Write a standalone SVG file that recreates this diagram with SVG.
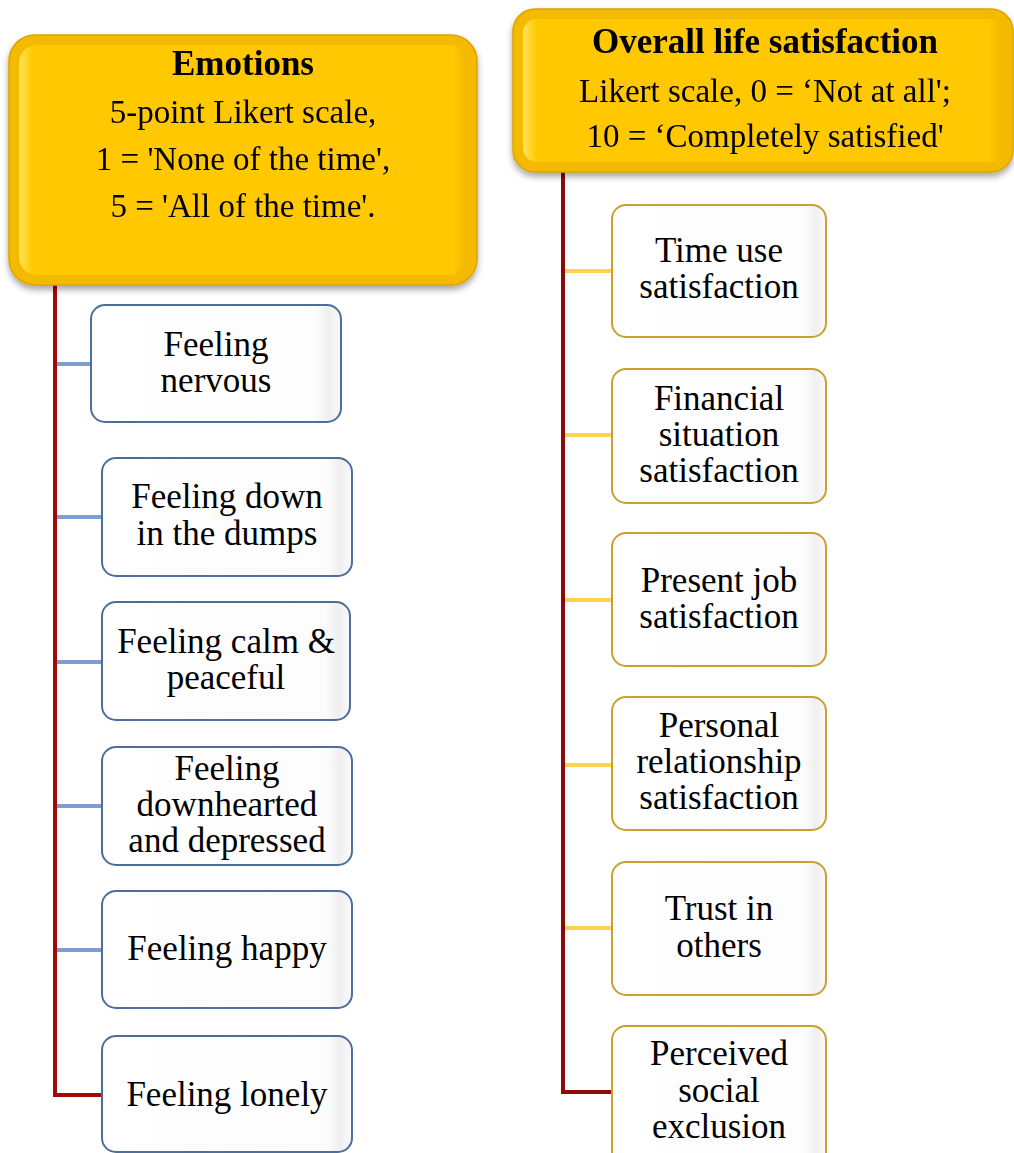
<svg xmlns="http://www.w3.org/2000/svg" width="1014" height="1153" viewBox="0 0 1014 1153">
  <defs>
    <filter id="shadow" x="-10%" y="-10%" width="120%" height="130%">
      <feDropShadow dx="0" dy="4" stdDeviation="3" flood-color="#000" flood-opacity="0.35"/>
    </filter>
    <linearGradient id="bevelH" x1="0" y1="0" x2="1" y2="0">
      <stop offset="0" stop-color="#FFE45A"/>
      <stop offset="0.03" stop-color="#FFC800"/>
      <stop offset="0.97" stop-color="#FFC800"/>
      <stop offset="1" stop-color="#F2B800"/>
    </linearGradient>
    <linearGradient id="boxFill" x1="0" y1="0" x2="1" y2="0">
      <stop offset="0" stop-color="#FFFFFF"/>
      <stop offset="0.9" stop-color="#FCFCFC"/>
      <stop offset="0.95" stop-color="#EFEFEF"/>
      <stop offset="1" stop-color="#FAFAFA"/>
    </linearGradient>
    <style>
      .hdr-outer { fill: #F4BA00; stroke: #DBA400; stroke-width: 1.5; }
      .hdr-inner { fill: url(#bevelH); }
      .box { fill: url(#boxFill); stroke-width: 2; }
      .blue { stroke: #4D6E9B; }
      .gold { stroke: #C9A032; }
      text { font-family: "Liberation Serif", "DejaVu Serif", serif; fill: #000; text-anchor: middle; }
      .title { font-size: 35px; font-weight: bold; }
      .sub { font-size: 33px; }
      .lbl { font-size: 35px; }
      .trunk-l { stroke: #A50A0A; stroke-width: 4; fill: none; }
      .trunk-r { stroke: #8E0A0A; stroke-width: 4; fill: none; }
      .br-blue { stroke: #7C9FD0; stroke-width: 4; }
      .br-gold { stroke: #FFD24F; stroke-width: 4; }
    </style>
  </defs>

  <!-- connectors -->
  <g id="connectors">
    <line class="br-blue" x1="56" y1="364" x2="91" y2="364"/>
    <line class="br-blue" x1="56" y1="517" x2="102" y2="517"/>
    <line class="br-blue" x1="56" y1="662" x2="102" y2="662"/>
    <line class="br-blue" x1="56" y1="806" x2="102" y2="806"/>
    <line class="br-blue" x1="56" y1="950" x2="102" y2="950"/>
    <path class="trunk-l" d="M55 285 V1095 H102"/>

    <line class="br-gold" x1="565" y1="271" x2="612" y2="271"/>
    <line class="br-gold" x1="565" y1="435" x2="612" y2="435"/>
    <line class="br-gold" x1="565" y1="600" x2="612" y2="600"/>
    <line class="br-gold" x1="565" y1="765" x2="612" y2="765"/>
    <line class="br-gold" x1="565" y1="928" x2="612" y2="928"/>
    <path class="trunk-r" d="M563 172 V1092 H612"/>
  </g>

  <!-- Emotions header -->
  <g id="emotions" filter="url(#shadow)">
    <rect class="hdr-outer" x="9" y="35" width="468" height="250" rx="26"/>
    <rect class="hdr-inner" x="19" y="45" width="448" height="230" rx="18"/>
    <text class="title" x="243" y="75">Emotions</text>
    <text class="sub" x="243" y="123">5-point Likert scale,</text>
    <text class="sub" x="243" y="170">1 = 'None of the time',</text>
    <text class="sub" x="243" y="217">5 = 'All of the time'.</text>
  </g>

  <!-- Overall life satisfaction header -->
  <g id="life-satisfaction" filter="url(#shadow)">
    <rect class="hdr-outer" x="513" y="9" width="500" height="163" rx="22"/>
    <rect class="hdr-inner" x="523" y="19" width="480" height="143" rx="14"/>
    <text class="title" x="765" y="53">Overall life satisfaction</text>
    <text class="sub" x="765" y="102">Likert scale, 0 = ‘Not at all';</text>
    <text class="sub" x="765" y="147">10 = ‘Completely satisfied'</text>
  </g>

  <!-- Emotion items -->
  <g id="nervous">
    <rect class="box blue" x="91" y="305" width="250" height="117" rx="14"/>
    <text class="lbl" x="216" y="356">Feeling</text>
    <text class="lbl" x="216" y="392">nervous</text>
  </g>
  <g id="down">
    <rect class="box blue" x="102" y="458" width="250" height="118" rx="14"/>
    <text class="lbl" x="227" y="508">Feeling down</text>
    <text class="lbl" x="227" y="545">in the dumps</text>
  </g>
  <g id="calm">
    <rect class="box blue" x="102" y="602" width="248" height="118" rx="14"/>
    <text class="lbl" x="226" y="653">Feeling calm &amp;</text>
    <text class="lbl" x="226" y="689">peaceful</text>
  </g>
  <g id="downhearted">
    <rect class="box blue" x="102" y="747" width="250" height="118" rx="14"/>
    <text class="lbl" x="227" y="780">Feeling</text>
    <text class="lbl" x="227" y="816">downhearted</text>
    <text class="lbl" x="227" y="852">and depressed</text>
  </g>
  <g id="happy">
    <rect class="box blue" x="102" y="891" width="250" height="117" rx="14"/>
    <text class="lbl" x="227" y="960">Feeling happy</text>
  </g>
  <g id="lonely">
    <rect class="box blue" x="102" y="1036" width="250" height="116" rx="14"/>
    <text class="lbl" x="227" y="1106">Feeling lonely</text>
  </g>

  <!-- Satisfaction items -->
  <g id="time-use">
    <rect class="box gold" x="612" y="205" width="214" height="132" rx="14"/>
    <text class="lbl" x="719" y="262">Time use</text>
    <text class="lbl" x="719" y="298">satisfaction</text>
  </g>
  <g id="financial">
    <rect class="box gold" x="612" y="369" width="214" height="134" rx="14"/>
    <text class="lbl" x="719" y="410">Financial</text>
    <text class="lbl" x="719" y="446">situation</text>
    <text class="lbl" x="719" y="482">satisfaction</text>
  </g>
  <g id="job">
    <rect class="box gold" x="612" y="533" width="214" height="133" rx="14"/>
    <text class="lbl" x="719" y="592">Present job</text>
    <text class="lbl" x="719" y="628">satisfaction</text>
  </g>
  <g id="relationship">
    <rect class="box gold" x="612" y="697" width="214" height="133" rx="14"/>
    <text class="lbl" x="719" y="737">Personal</text>
    <text class="lbl" x="719" y="773">relationship</text>
    <text class="lbl" x="719" y="809">satisfaction</text>
  </g>
  <g id="trust">
    <rect class="box gold" x="612" y="862" width="214" height="133" rx="14"/>
    <text class="lbl" x="719" y="920">Trust in</text>
    <text class="lbl" x="719" y="957">others</text>
  </g>
  <g id="exclusion">
    <rect class="box gold" x="612" y="1026" width="214" height="140" rx="14"/>
    <text class="lbl" x="719" y="1065">Perceived</text>
    <text class="lbl" x="719" y="1102">social</text>
    <text class="lbl" x="719" y="1138">exclusion</text>
  </g>
</svg>
